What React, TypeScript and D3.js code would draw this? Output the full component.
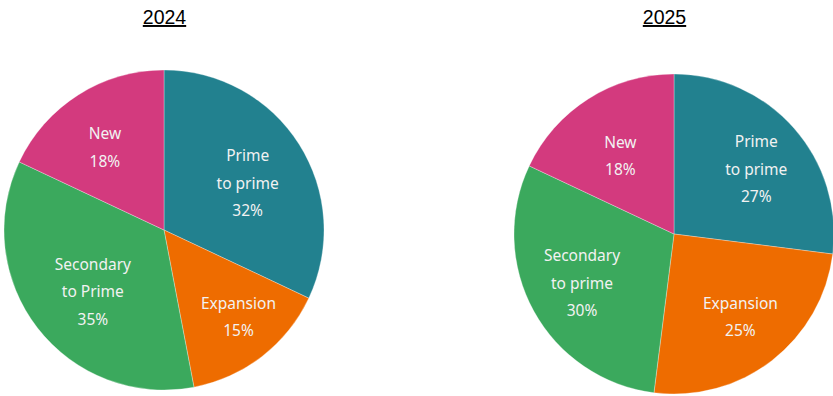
import React from "react";
import * as d3 from "d3";

const categories2024 = ["Prime\nto prime", "Expansion", "Secondary\nto Prime", "New"];
const values2024 = [32, 15, 35, 18];
const categories2025 = ["Prime\nto prime", "Expansion", "Secondary\nto prime", "New"];
const values2025 = [27, 25, 30, 18];
const titles = ["2024", "2025"];
const colors = ["#22818F", "#EE6C00", "#3BA95D", "#D33A7E"];

// label layout (distance from centre, degrees of angular nudge) per slice
const labelR2024 = [96, 114, 94, 102];
const labelA2024 = [3, -3, -3, -3];
const labelR2025 = [105, 106, 104, 95];
const labelA2025 = [3, -1, 1, -2];

const W = 833;
const H = 396;
const R = 160;

function Pie({ cx, cy, title, titleX, cats, vals, lr, la }: { cx: number; cy: number; title: string; titleX: number; cats: string[]; vals: number[]; lr: number[]; la: number[] }) {
  const data = cats.map((c, i) => ({ c, v: vals[i], i }));
  const pie = d3.pie<any>().value((d) => d.v).sort(null);
  const arcs = pie(data);
  const arc = d3.arc<any>().innerRadius(0).outerRadius(R);
  return (
    <g>
      <text x={titleX} y={24} textAnchor="middle" fontFamily="Liberation Sans, Arial, sans-serif" fontSize={19.5} fill="#000" textDecoration="underline">
        {title}
      </text>
      <g transform={`translate(${cx},${cy})`}>
        {arcs.map((a, k) => (
          <path key={k} d={arc(a) as string} fill={colors[a.data.i]} stroke="#ffffff" strokeOpacity={0.5} strokeWidth={0.6} />
        ))}
        {arcs.map((a, k) => {
          const i = a.data.i;
          const ang = (a.startAngle + a.endAngle) / 2 + (la[i] * Math.PI) / 180;
          const lx = lr[i] * Math.sin(ang);
          const ly = -lr[i] * Math.cos(ang);
          const lines = [...a.data.c.split("\n"), `${a.data.v}%`];
          const n = lines.length;
          return (
            <text key={"t" + k} textAnchor="middle" fontFamily="Noto Sans, sans-serif" fontSize={15.5} fill="#F2F2F2">
              {lines.map((ln: string, j: number) => (
                <tspan key={j} x={lx} y={ly + (j - (n - 1) / 2) * 27.5} dominantBaseline="central">
                  {ln}
                </tspan>
              ))}
            </text>
          );
        })}
      </g>
    </g>
  );
}

export default function App() {
  return (
    <svg width={W} height={H} style={{ position: "absolute", left: 0, top: 0, background: "#fff" }}>
      <Pie cx={164} cy={230} title={titles[0]} titleX={164.5} cats={categories2024} vals={values2024} lr={labelR2024} la={labelA2024} />
      <Pie cx={674} cy={234} title={titles[1]} titleX={664.5} cats={categories2025} vals={values2025} lr={labelR2025} la={labelA2025} />
    </svg>
  );
}
